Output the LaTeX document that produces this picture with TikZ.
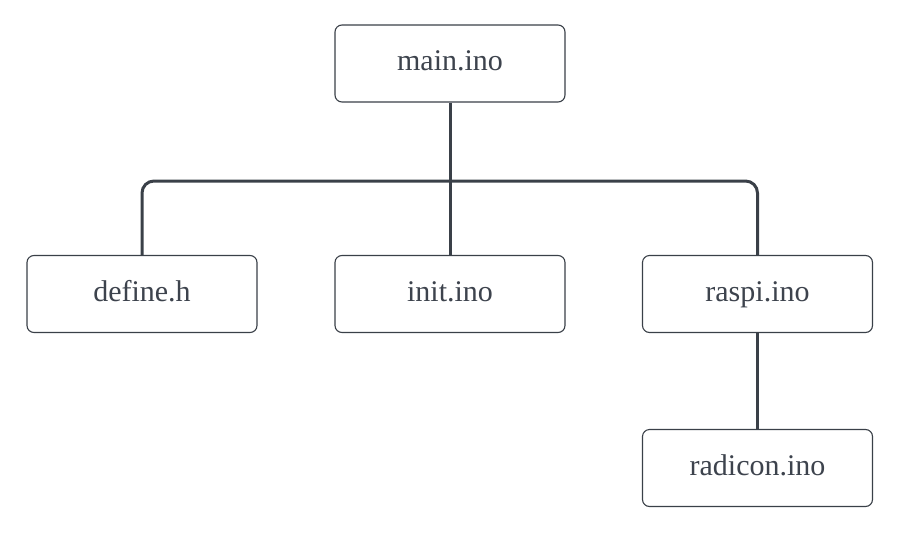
\documentclass[tikz,border=0pt]{standalone}
\usepackage{fontspec}
\setmainfont{Liberation Serif}
\definecolor{edgec}{HTML}{3A4048}
\definecolor{textc}{HTML}{3D434D}
\begin{document}
\begin{tikzpicture}[x=1pt,y=-1pt,
  filebox/.style={draw=edgec,line width=1.1pt,rounded corners=7pt,fill=white,
    minimum width=230pt,minimum height=77pt,inner sep=0pt,text=textc,
    text height=20pt,text depth=6pt,
    font=\fontsize{30}{34}\selectfont},
  link/.style={draw=edgec,line width=3pt,rounded corners=12pt}]
\useasboundingbox (0,0) rectangle (902,533);
\node[filebox] (main) at (450,63.5) {main.ino};
\node[filebox] (define) at (142,294) {define.h};
\node[filebox] (init) at (450,294) {init.ino};
\node[filebox] (raspi) at (757.5,294) {raspi.ino};
\node[filebox] (radicon) at (757.5,468) {radicon.ino};
\coordinate (hub) at (450,181);
\draw[link] (main.south) -- (init.north);
\draw[link] (define.north) |- (hub) -| (raspi.north);
\draw[link] (raspi.south) -- (radicon.north);
\end{tikzpicture}
\end{document}
